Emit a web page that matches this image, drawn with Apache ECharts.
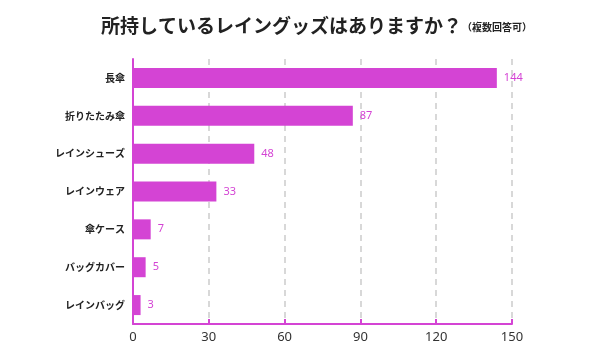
<!DOCTYPE html>
<html><head><meta charset="utf-8">
<script src="https://cdn.jsdelivr.net/npm/echarts@6/dist/echarts.min.js"></script>
<style>html,body{margin:0;padding:0;background:#fff}#c{width:600px;height:360px}</style>
</head><body><div id="c"></div>
<script>
const categories = ["長傘","折りたたみ傘","レインシューズ","レインウェア","傘ケース","バッグカバー","レインバッグ"];
const values = [144, 87, 48, 33, 7, 5, 3];
const xTicks = [0, 30, 60, 90, 120, 150];
const titleMain = "所持しているレイングッズはありますか？";
const titleSub = "（複数回答可）";

const color = "#d444d4";
const chart = echarts.init(document.getElementById('c'));
chart.setOption({
  animation: false,
  title: {
    text: "{m|" + titleMain + "}{s|" + titleSub + "}",
    left: 96, top: 11,
    textStyle: {
      rich: {
        m: {fontSize: 19, fontWeight: 'bold', color: '#222', fontFamily: 'Noto Sans CJK JP'},
        s: {fontSize: 10, fontWeight: 'bold', color: '#222', fontFamily: 'Noto Sans CJK JP', padding: [4,0,0,0]}
      }
    }
  },
  grid: {left: 133, right: 88, top: 59, bottom: 36},
  xAxis: {
    type: 'value', min: xTicks[0], max: xTicks[xTicks.length-1], interval: 30,
    axisLine: {show: true, lineStyle: {color: color, width: 2}},
    axisTick: {show: true, inside: true, length: 5, lineStyle: {color: color, width: 2}},
    axisLabel: {color: '#333', fontSize: 13, fontFamily: 'Noto Sans', margin: 7},
    splitLine: {show: true, lineStyle: {color: '#ccc', type: [6, 5], width: 1.5}}
  },
  yAxis: {
    type: 'category', data: categories, inverse: true,
    axisLine: {show: true, lineStyle: {color: color, width: 2}},
    axisTick: {show: false},
    axisLabel: {color: '#222', fontSize: 10, fontWeight: 'bold', fontFamily: 'Noto Sans CJK JP', margin: 8}
  },
  series: [{
    type: 'bar', data: values, barWidth: 20,
    itemStyle: {color: color},
    label: {show: true, position: 'right', distance: 7, color: color, fontSize: 11, fontFamily: 'Noto Sans'}
  }]
});
</script></body></html>
